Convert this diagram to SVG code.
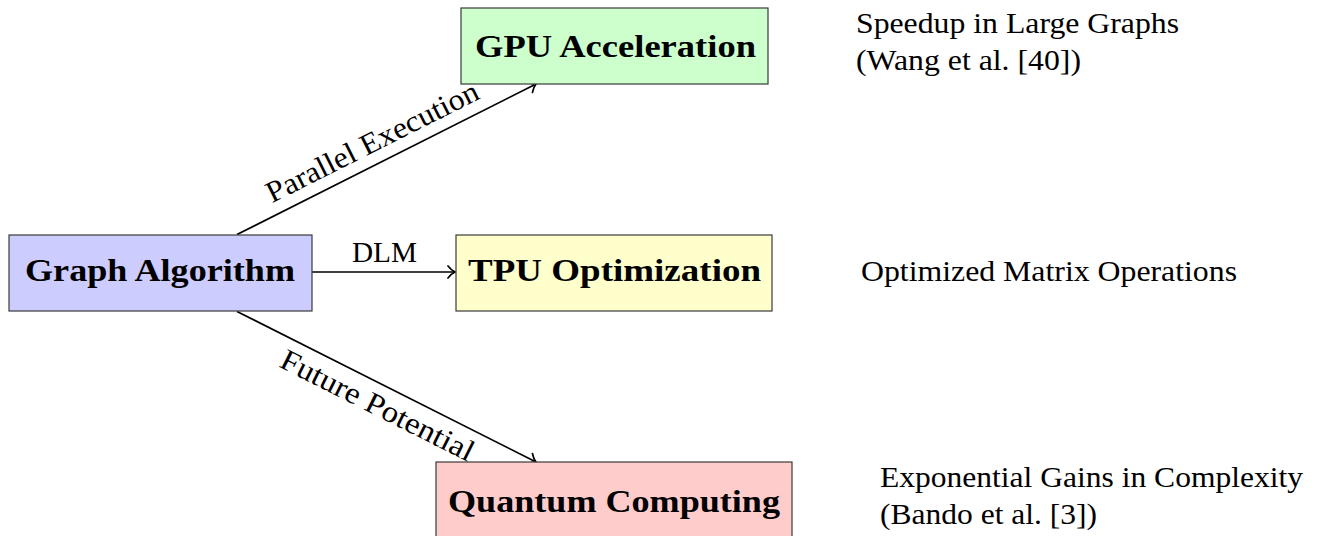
<svg xmlns="http://www.w3.org/2000/svg" width="1321" height="536" viewBox="0 0 1321 536">
<style>
.box{stroke:#3a3a3a;stroke-width:1.2}
.nt{font-family:"Liberation Serif","DejaVu Serif",serif;font-weight:bold;font-size:32px;fill:#000}
.t{font-family:"Liberation Serif","DejaVu Serif",serif;font-size:30px;fill:#000}
.edge{stroke:#000;stroke-width:1.7;fill:none}
</style>
<defs>
<marker id="arr" markerUnits="userSpaceOnUse" orient="auto" markerWidth="20" markerHeight="20" refX="0" refY="0" viewBox="-10 -10 20 20" overflow="visible">
<path d="M-7,-6 C-4.5,-2.8 -1.6,-0.7 0,0 C-1.6,0.7 -4.5,2.8 -7,6" fill="none" stroke="#000" stroke-width="1.7" stroke-linecap="round"/>
</marker>
</defs>
<rect width="1321" height="536" fill="#fff"/>
<g id="connectors">
<line class="edge" x1="237" y1="234.5" x2="536" y2="84" marker-end="url(#arr)"/>
<line class="edge" x1="312" y1="272" x2="455" y2="272" marker-end="url(#arr)"/>
<line class="edge" x1="237" y1="311.5" x2="536" y2="462" marker-end="url(#arr)"/>
<g transform="translate(382,161.5) rotate(-26.7)"><text class="t" x="0" y="-12" text-anchor="middle" textLength="234" lengthAdjust="spacingAndGlyphs">Parallel Execution</text></g>
<text class="t" x="384.5" y="262" text-anchor="middle" textLength="65" lengthAdjust="spacingAndGlyphs">DLM</text>
<g transform="translate(387,386.5) rotate(26.7)"><text class="t" x="0" y="31" text-anchor="middle" textLength="213" lengthAdjust="spacingAndGlyphs">Future Potential</text></g>
</g>
<g id="graph-algorithm">
<rect class="box" x="9" y="235" width="303" height="76" fill="#ccccff"/>
<text class="nt" x="160" y="281" text-anchor="middle" textLength="270" lengthAdjust="spacingAndGlyphs">Graph Algorithm</text>
</g>
<g id="gpu-acceleration">
<rect class="box" x="461" y="8" width="307" height="76" fill="#ccffcc"/>
<text class="nt" x="615.5" y="56.5" text-anchor="middle" textLength="281" lengthAdjust="spacingAndGlyphs">GPU Acceleration</text>
</g>
<g id="tpu-optimization">
<rect class="box" x="456" y="235" width="316" height="76" fill="#ffffcc"/>
<text class="nt" x="614.5" y="281" text-anchor="middle" textLength="293" lengthAdjust="spacingAndGlyphs">TPU Optimization</text>
</g>
<g id="quantum-computing">
<rect class="box" x="436" y="462" width="356" height="78" fill="#ffcccc"/>
<text class="nt" x="614" y="511.5" text-anchor="middle" textLength="332" lengthAdjust="spacingAndGlyphs">Quantum Computing</text>
</g>
<g id="gpu-note">
<text class="t" x="856" y="33" textLength="323" lengthAdjust="spacingAndGlyphs">Speedup in Large Graphs</text>
<text class="t" x="856" y="69.5" textLength="225" lengthAdjust="spacingAndGlyphs">(Wang et al. [40])</text>
</g>
<g id="tpu-note">
<text class="t" x="861" y="280.5" textLength="376" lengthAdjust="spacingAndGlyphs">Optimized Matrix Operations</text>
</g>
<g id="quantum-note">
<text class="t" x="880" y="486.5" textLength="423" lengthAdjust="spacingAndGlyphs">Exponential Gains in Complexity</text>
<text class="t" x="880" y="523.5" textLength="217" lengthAdjust="spacingAndGlyphs">(Bando et al. [3])</text>
</g>
</svg>
